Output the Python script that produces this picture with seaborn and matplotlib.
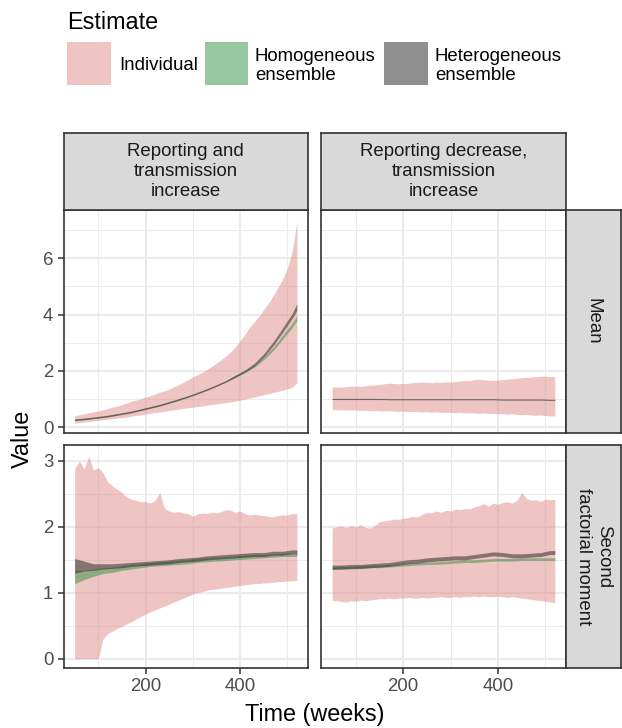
import matplotlib
matplotlib.use("Agg")
import matplotlib.pyplot as plt
import seaborn as sns
import pandas as pd
from matplotlib.patches import Rectangle
from matplotlib.ticker import FixedLocator

# ---------------- data ----------------
SCENARIOS = ["Reporting and\ntransmission\nincrease",
             "Reporting decrease,\ntransmission\nincrease"]
MOMENTS = ["Mean", "Second\nfactorial moment"]
ESTIMATES = ["Individual", "Homogeneous\nensemble", "Heterogeneous\nensemble"]

WEEKS = list(range(50, 521, 10))                 # individual ribbons
ENS_WEEKS = list(range(50, 511, 20)) + [520]     # ensemble ribbons

# Reporting and transmission increase - Mean
IND_RTI_MEAN_LO = [0.14, 0.16, 0.18, 0.20, 0.22, 0.24, 0.26, 0.28, 0.30, 0.32,
                   0.34, 0.36, 0.39, 0.41, 0.44, 0.46, 0.49, 0.51, 0.54, 0.56,
                   0.59, 0.61, 0.64, 0.66, 0.69, 0.71, 0.73, 0.75, 0.78, 0.80,
                   0.82, 0.85, 0.87, 0.90, 0.93, 0.96, 1.00, 1.03, 1.07, 1.11,
                   1.15, 1.19, 1.23, 1.27, 1.31, 1.36, 1.42, 1.58]
IND_RTI_MEAN_HI = [0.41, 0.44, 0.47, 0.51, 0.54, 0.58, 0.61, 0.66, 0.71, 0.75,
                   0.80, 0.86, 0.92, 0.96, 1.01, 1.06, 1.11, 1.18, 1.24, 1.29,
                   1.35, 1.44, 1.51, 1.59, 1.69, 1.79, 1.86, 1.95, 2.06, 2.16,
                   2.28, 2.40, 2.53, 2.68, 2.86, 3.08, 3.29, 3.55, 3.74, 3.95,
                   4.18, 4.41, 4.68, 4.96, 5.27, 5.65, 6.24, 7.30]
HOM_RTI_MEAN_LO = [0.24, 0.27, 0.31, 0.35, 0.40, 0.46, 0.52, 0.60, 0.68, 0.76,
                   0.86, 0.96, 1.07, 1.19, 1.32, 1.46, 1.61, 1.77, 1.94, 2.13,
                   2.40, 2.72, 3.13, 3.54, 3.78]
HOM_RTI_MEAN_HI = [0.28, 0.31, 0.35, 0.39, 0.44, 0.50, 0.56, 0.64, 0.72, 0.80,
                   0.90, 1.00, 1.11, 1.23, 1.36, 1.50, 1.65, 1.83, 2.00, 2.21,
                   2.50, 2.84, 3.27, 3.70, 3.96]
HET_RTI_MEAN_LO = [0.23, 0.26, 0.30, 0.34, 0.39, 0.45, 0.51, 0.59, 0.67, 0.75,
                   0.85, 0.95, 1.06, 1.18, 1.31, 1.45, 1.60, 1.77, 1.95, 2.17,
                   2.49, 2.90, 3.37, 3.86, 4.15]
HET_RTI_MEAN_HI = [0.29, 0.32, 0.36, 0.40, 0.45, 0.51, 0.57, 0.65, 0.73, 0.81,
                   0.91, 1.01, 1.12, 1.24, 1.37, 1.51, 1.66, 1.85, 2.03, 2.27,
                   2.61, 3.04, 3.53, 4.04, 4.39]

# Reporting decrease, transmission increase - Mean
IND_RDTI_MEAN_LO = [0.62, 0.61, 0.62, 0.60, 0.61, 0.60, 0.59, 0.60, 0.58, 0.59,
                    0.58, 0.57, 0.58, 0.57, 0.56, 0.57, 0.55, 0.56, 0.55, 0.54,
                    0.55, 0.53, 0.54, 0.52, 0.53, 0.52, 0.51, 0.52, 0.50, 0.51,
                    0.50, 0.49, 0.50, 0.48, 0.49, 0.47, 0.48, 0.46, 0.47, 0.45,
                    0.44, 0.45, 0.43, 0.42, 0.43, 0.41, 0.40, 0.39]
IND_RDTI_MEAN_HI = [1.42, 1.43, 1.42, 1.44, 1.45, 1.46, 1.45, 1.47, 1.49, 1.50,
                    1.52, 1.54, 1.56, 1.55, 1.54, 1.55, 1.56, 1.58, 1.59, 1.60,
                    1.59, 1.58, 1.60, 1.59, 1.61, 1.60, 1.62, 1.64, 1.66, 1.65,
                    1.69, 1.70, 1.68, 1.67, 1.66, 1.67, 1.69, 1.71, 1.72, 1.74,
                    1.76, 1.77, 1.78, 1.80, 1.81, 1.81, 1.80, 1.79]
HOM_RDTI_MEAN_LO = [0.99, 0.99, 0.99, 0.99, 0.99, 0.99, 0.98, 0.98, 0.98, 0.98,
                    0.98, 0.98, 0.98, 0.98, 0.98, 0.98, 0.98, 0.98, 0.97, 0.97,
                    0.97, 0.97, 0.97, 0.96, 0.96]
HOM_RDTI_MEAN_HI = [1.01, 1.01, 1.01, 1.01, 1.01, 1.01, 1.00, 1.00, 1.00, 1.00,
                    1.00, 1.00, 1.00, 1.00, 1.00, 1.00, 1.00, 1.00, 0.99, 0.99,
                    0.99, 0.99, 0.99, 0.98, 0.98]
HET_RDTI_MEAN_LO = [0.98, 0.98, 0.98, 0.98, 0.98, 0.98, 0.97, 0.97, 0.97, 0.97,
                    0.97, 0.97, 0.97, 0.97, 0.97, 0.97, 0.97, 0.97, 0.96, 0.96,
                    0.96, 0.96, 0.96, 0.95, 0.95]
HET_RDTI_MEAN_HI = [1.02, 1.02, 1.02, 1.02, 1.02, 1.02, 1.01, 1.01, 1.01, 1.01,
                    1.01, 1.01, 1.01, 1.01, 1.01, 1.01, 1.01, 1.01, 1.00, 1.00,
                    1.00, 1.00, 1.00, 0.99, 0.99]

# Reporting and transmission increase - Second factorial moment
IND_RTI_SFM_LO = [0.00, 0.00, 0.00, 0.00, 0.00, 0.00, 0.30, 0.38, 0.42, 0.46,
                  0.49, 0.53, 0.56, 0.60, 0.64, 0.68, 0.71, 0.74, 0.77, 0.80,
                  0.83, 0.86, 0.89, 0.92, 0.95, 0.98, 1.00, 1.02, 1.04, 1.05,
                  1.06, 1.07, 1.08, 1.09, 1.10, 1.11, 1.12, 1.13, 1.14, 1.14,
                  1.15, 1.15, 1.16, 1.17, 1.17, 1.18, 1.18, 1.19]
IND_RTI_SFM_HI = [2.88, 3.00, 2.88, 3.07, 2.86, 2.90, 2.82, 2.68, 2.62, 2.57,
                  2.52, 2.45, 2.42, 2.40, 2.38, 2.38, 2.36, 2.40, 2.52, 2.28,
                  2.24, 2.22, 2.23, 2.21, 2.20, 2.16, 2.20, 2.21, 2.20, 2.22,
                  2.21, 2.23, 2.26, 2.25, 2.22, 2.24, 2.20, 2.18, 2.19, 2.18,
                  2.17, 2.16, 2.15, 2.17, 2.18, 2.18, 2.20, 2.20]
HOM_RTI_SFM_LO = [1.14, 1.20, 1.25, 1.29, 1.31, 1.34, 1.36, 1.38, 1.40, 1.41,
                  1.42, 1.43, 1.44, 1.46, 1.47, 1.48, 1.49, 1.50, 1.51, 1.52,
                  1.53, 1.54, 1.55, 1.55, 1.55]
HOM_RTI_SFM_HI = [1.34, 1.34, 1.36, 1.38, 1.39, 1.41, 1.43, 1.44, 1.46, 1.47,
                  1.48, 1.49, 1.50, 1.52, 1.53, 1.54, 1.55, 1.56, 1.57, 1.58,
                  1.58, 1.59, 1.60, 1.60, 1.60]
HET_RTI_SFM_LO = [1.30, 1.33, 1.34, 1.36, 1.37, 1.38, 1.40, 1.41, 1.42, 1.43,
                  1.44, 1.46, 1.47, 1.48, 1.50, 1.51, 1.52, 1.53, 1.54, 1.55,
                  1.55, 1.57, 1.57, 1.59, 1.59]
HET_RTI_SFM_HI = [1.52, 1.48, 1.44, 1.44, 1.44, 1.45, 1.46, 1.47, 1.48, 1.49,
                  1.50, 1.52, 1.53, 1.54, 1.56, 1.57, 1.58, 1.59, 1.60, 1.61,
                  1.61, 1.63, 1.63, 1.65, 1.65]

# Reporting decrease, transmission increase - Second factorial moment
IND_RDTI_SFM_LO = [0.88, 0.88, 0.87, 0.86, 0.88, 0.87, 0.89, 0.88, 0.89, 0.90,
                   0.91, 0.91, 0.92, 0.91, 0.92, 0.92, 0.93, 0.92, 0.92, 0.93,
                   0.92, 0.93, 0.93, 0.94, 0.93, 0.93, 0.94, 0.93, 0.94, 0.94,
                   0.95, 0.94, 0.95, 0.94, 0.94, 0.95, 0.94, 0.93, 0.94, 0.93,
                   0.92, 0.91, 0.90, 0.89, 0.88, 0.87, 0.86, 0.85]
IND_RDTI_SFM_HI = [1.98, 2.00, 2.01, 1.99, 2.02, 2.00, 2.03, 1.99, 1.98, 2.02,
                   2.08, 2.09, 2.10, 2.12, 2.11, 2.13, 2.14, 2.16, 2.15, 2.19,
                   2.22, 2.21, 2.24, 2.22, 2.25, 2.24, 2.27, 2.26, 2.28, 2.27,
                   2.30, 2.32, 2.35, 2.31, 2.36, 2.34, 2.37, 2.38, 2.36, 2.40,
                   2.52, 2.43, 2.40, 2.41, 2.39, 2.42, 2.41, 2.42]
HOM_RDTI_SFM_LO = [1.35, 1.36, 1.36, 1.37, 1.38, 1.38, 1.39, 1.40, 1.41, 1.42,
                   1.43, 1.43, 1.44, 1.45, 1.46, 1.46, 1.47, 1.48, 1.48, 1.48,
                   1.49, 1.49, 1.49, 1.49, 1.49]
HOM_RDTI_SFM_HI = [1.39, 1.40, 1.40, 1.41, 1.42, 1.42, 1.43, 1.44, 1.45, 1.46,
                   1.47, 1.47, 1.48, 1.49, 1.50, 1.50, 1.51, 1.52, 1.52, 1.52,
                   1.53, 1.53, 1.53, 1.53, 1.53]
HET_RDTI_SFM_LO = [1.36, 1.36, 1.37, 1.37, 1.38, 1.39, 1.40, 1.42, 1.44, 1.45,
                   1.47, 1.48, 1.49, 1.50, 1.50, 1.52, 1.54, 1.56, 1.55, 1.53,
                   1.53, 1.54, 1.55, 1.58, 1.58]
HET_RDTI_SFM_HI = [1.42, 1.42, 1.43, 1.43, 1.44, 1.45, 1.46, 1.48, 1.50, 1.51,
                   1.53, 1.54, 1.55, 1.56, 1.56, 1.58, 1.60, 1.62, 1.61, 1.59,
                   1.59, 1.60, 1.61, 1.64, 1.64]

X_TICKS = [200, 400]
Y_TICKS = {MOMENTS[0]: [0, 2, 4, 6], MOMENTS[1]: [0, 1, 2, 3]}

# ---------------- long-form table ----------------
rows = []
def add(scen, mom, est, weeks, lo, hi):
    for w, a, b in zip(weeks, lo, hi):
        rows.append((scen, mom, est, w, a))
        rows.append((scen, mom, est, w, b))

S0, S1 = SCENARIOS
M0, M1 = MOMENTS
E0, E1, E2 = ESTIMATES
add(S0, M0, E0, WEEKS, IND_RTI_MEAN_LO, IND_RTI_MEAN_HI)
add(S0, M0, E1, ENS_WEEKS, HOM_RTI_MEAN_LO, HOM_RTI_MEAN_HI)
add(S0, M0, E2, ENS_WEEKS, HET_RTI_MEAN_LO, HET_RTI_MEAN_HI)
add(S1, M0, E0, WEEKS, IND_RDTI_MEAN_LO, IND_RDTI_MEAN_HI)
add(S1, M0, E1, ENS_WEEKS, HOM_RDTI_MEAN_LO, HOM_RDTI_MEAN_HI)
add(S1, M0, E2, ENS_WEEKS, HET_RDTI_MEAN_LO, HET_RDTI_MEAN_HI)
add(S0, M1, E0, WEEKS, IND_RTI_SFM_LO, IND_RTI_SFM_HI)
add(S0, M1, E1, ENS_WEEKS, HOM_RTI_SFM_LO, HOM_RTI_SFM_HI)
add(S0, M1, E2, ENS_WEEKS, HET_RTI_SFM_LO, HET_RTI_SFM_HI)
add(S1, M1, E0, WEEKS, IND_RDTI_SFM_LO, IND_RDTI_SFM_HI)
add(S1, M1, E1, ENS_WEEKS, HOM_RDTI_SFM_LO, HOM_RDTI_SFM_HI)
add(S1, M1, E2, ENS_WEEKS, HET_RDTI_SFM_LO, HET_RDTI_SFM_HI)
df = pd.DataFrame(rows, columns=["scenario", "moment", "Estimate", "week", "value"])

# ---------------- style ----------------
sns.set_theme(style="whitegrid")
plt.rcParams['font.family'] = ['Liberation Sans', 'DejaVu Sans']

COLORS = {E0: "#E08C88", E1: "#319141", E2: "#212121"}
ALPHA = 0.5
BORDER = "#333333"
GRID = "#EBEBEB"
STRIP = "#D9D9D9"
BIG = 16.8
SMALL = 13.4
STRIP_LS = 1.25

W, H = 622, 728
fig = plt.figure(figsize=(W / 100, H / 100), dpi=100)
fig.patch.set_facecolor("white")

def rect(x0, y0, x1, y1):
    return [x0 / W, 1 - y1 / H, (x1 - x0) / W, (y1 - y0) / H]

COL_X = [(63.5, 308), (321, 566)]
ROW_Y = [(210, 433), (445, 668)]
YLIMS = {M0: (-0.21, 7.72), M1: (-0.14, 3.24)}
Y_MINOR = {M0: [1, 3, 5, 7], M1: [0.5, 1.5, 2.5]}
XLIM = (26.5, 543.5)

for r, mom in enumerate(MOMENTS):
    for c, scen in enumerate(SCENARIOS):
        x0, x1 = COL_X[c]
        y0, y1 = ROW_Y[r]
        ax = fig.add_axes(rect(x0, y0, x1, y1))
        ax.set_facecolor("white")
        for est in ESTIMATES:
            sub = df[(df.scenario == scen) & (df.moment == mom) & (df.Estimate == est)]
            sns.lineplot(data=sub, x="week", y="value", estimator="mean",
                         errorbar=("pi", 100), color=COLORS[est], linewidth=0,
                         err_kws={"alpha": ALPHA, "linewidth": 0}, ax=ax, legend=False)
        ax.set_xlim(*XLIM)
        ax.set_ylim(*YLIMS[mom])
        ax.xaxis.set_major_locator(FixedLocator(X_TICKS))
        ax.xaxis.set_minor_locator(FixedLocator([100, 300, 500]))
        ax.yaxis.set_major_locator(FixedLocator(Y_TICKS[mom]))
        ax.yaxis.set_minor_locator(FixedLocator(Y_MINOR[mom]))
        ax.grid(which="major", color=GRID, linewidth=1.5)
        ax.grid(which="minor", color=GRID, linewidth=0.75)
        ax.set_axisbelow(True)
        for sp in ax.spines.values():
            sp.set_color(BORDER)
            sp.set_linewidth(1.2)
            sp.set_visible(True)
        ax.set_xlabel("")
        ax.set_ylabel("")
        ax.tick_params(which="minor", length=0)
        ax.tick_params(which="major", direction="out", length=4.3, width=1.1,
                       color=BORDER, labelsize=SMALL, labelcolor="#4D4D4D", pad=3)
        ax.tick_params(axis="x", bottom=(r == 1), labelbottom=(r == 1))
        ax.tick_params(axis="y", left=(c == 0), labelleft=(c == 0))
        if c == 0:
            ax.set_yticklabels([str(v) for v in Y_TICKS[mom]])

        # row strip
        if c == 1:
            sax = fig.add_axes(rect(566, y0, 621, y1))
            sax.set_facecolor(STRIP)
            sax.set_xticks([]); sax.set_yticks([])
            sax.grid(False)
            for sp in sax.spines.values():
                sp.set_color(BORDER); sp.set_linewidth(1.2); sp.set_visible(True)
            sax.text(0.5, 0.5, mom, rotation=-90, ha="center", va="center",
                     multialignment="center", fontsize=SMALL, color="#1A1A1A",
                     linespacing=STRIP_LS, transform=sax.transAxes)

for c, scen in enumerate(SCENARIOS):
    x0, x1 = COL_X[c]
    sax = fig.add_axes(rect(x0, 133, x1, 210))
    sax.set_facecolor(STRIP)
    sax.set_xticks([]); sax.set_yticks([])
    sax.grid(False)
    for sp in sax.spines.values():
        sp.set_color(BORDER); sp.set_linewidth(1.2); sp.set_visible(True)
    sax.text(0.5, 0.5, scen, ha="center", va="center", multialignment="center",
             fontsize=SMALL, color="#1A1A1A", linespacing=STRIP_LS,
             transform=sax.transAxes)

# axis titles
fig.text(22 / W, 1 - 439 / H, "Value", rotation=90, ha="center", va="center",
         fontsize=BIG, color="black")
fig.text(314.5 / W, 1 - 714 / H, "Time (weeks)", ha="center", va="center",
         fontsize=BIG, color="black")

# legend
fig.text(67 / W, 1 - 29.3 / H, "Estimate", ha="left", va="baseline",
         fontsize=BIG, color="black")
KEY_X = [67, 205, 384]
LABEL_X = [119, 255, 435]
for est, kx, lx in zip(ESTIMATES, KEY_X, LABEL_X):
    fig.patches.append(Rectangle((kx / W, 1 - 85 / H), 43.5 / W, 43 / H,
                                 transform=fig.transFigure, facecolor=COLORS[est],
                                 alpha=ALPHA, edgecolor="none"))
    lines = est.split("\n")
    if len(lines) == 1:
        fig.text(lx / W, 1 - 70.5 / H, lines[0], ha="left", va="baseline",
                 fontsize=SMALL, color="black")
    else:
        for ln, base in zip(lines, [61, 80]):
            fig.text(lx / W, 1 - base / H, ln, ha="left", va="baseline",
                     fontsize=SMALL, color="black")

fig.savefig("out.png", dpi=100, facecolor="white")
